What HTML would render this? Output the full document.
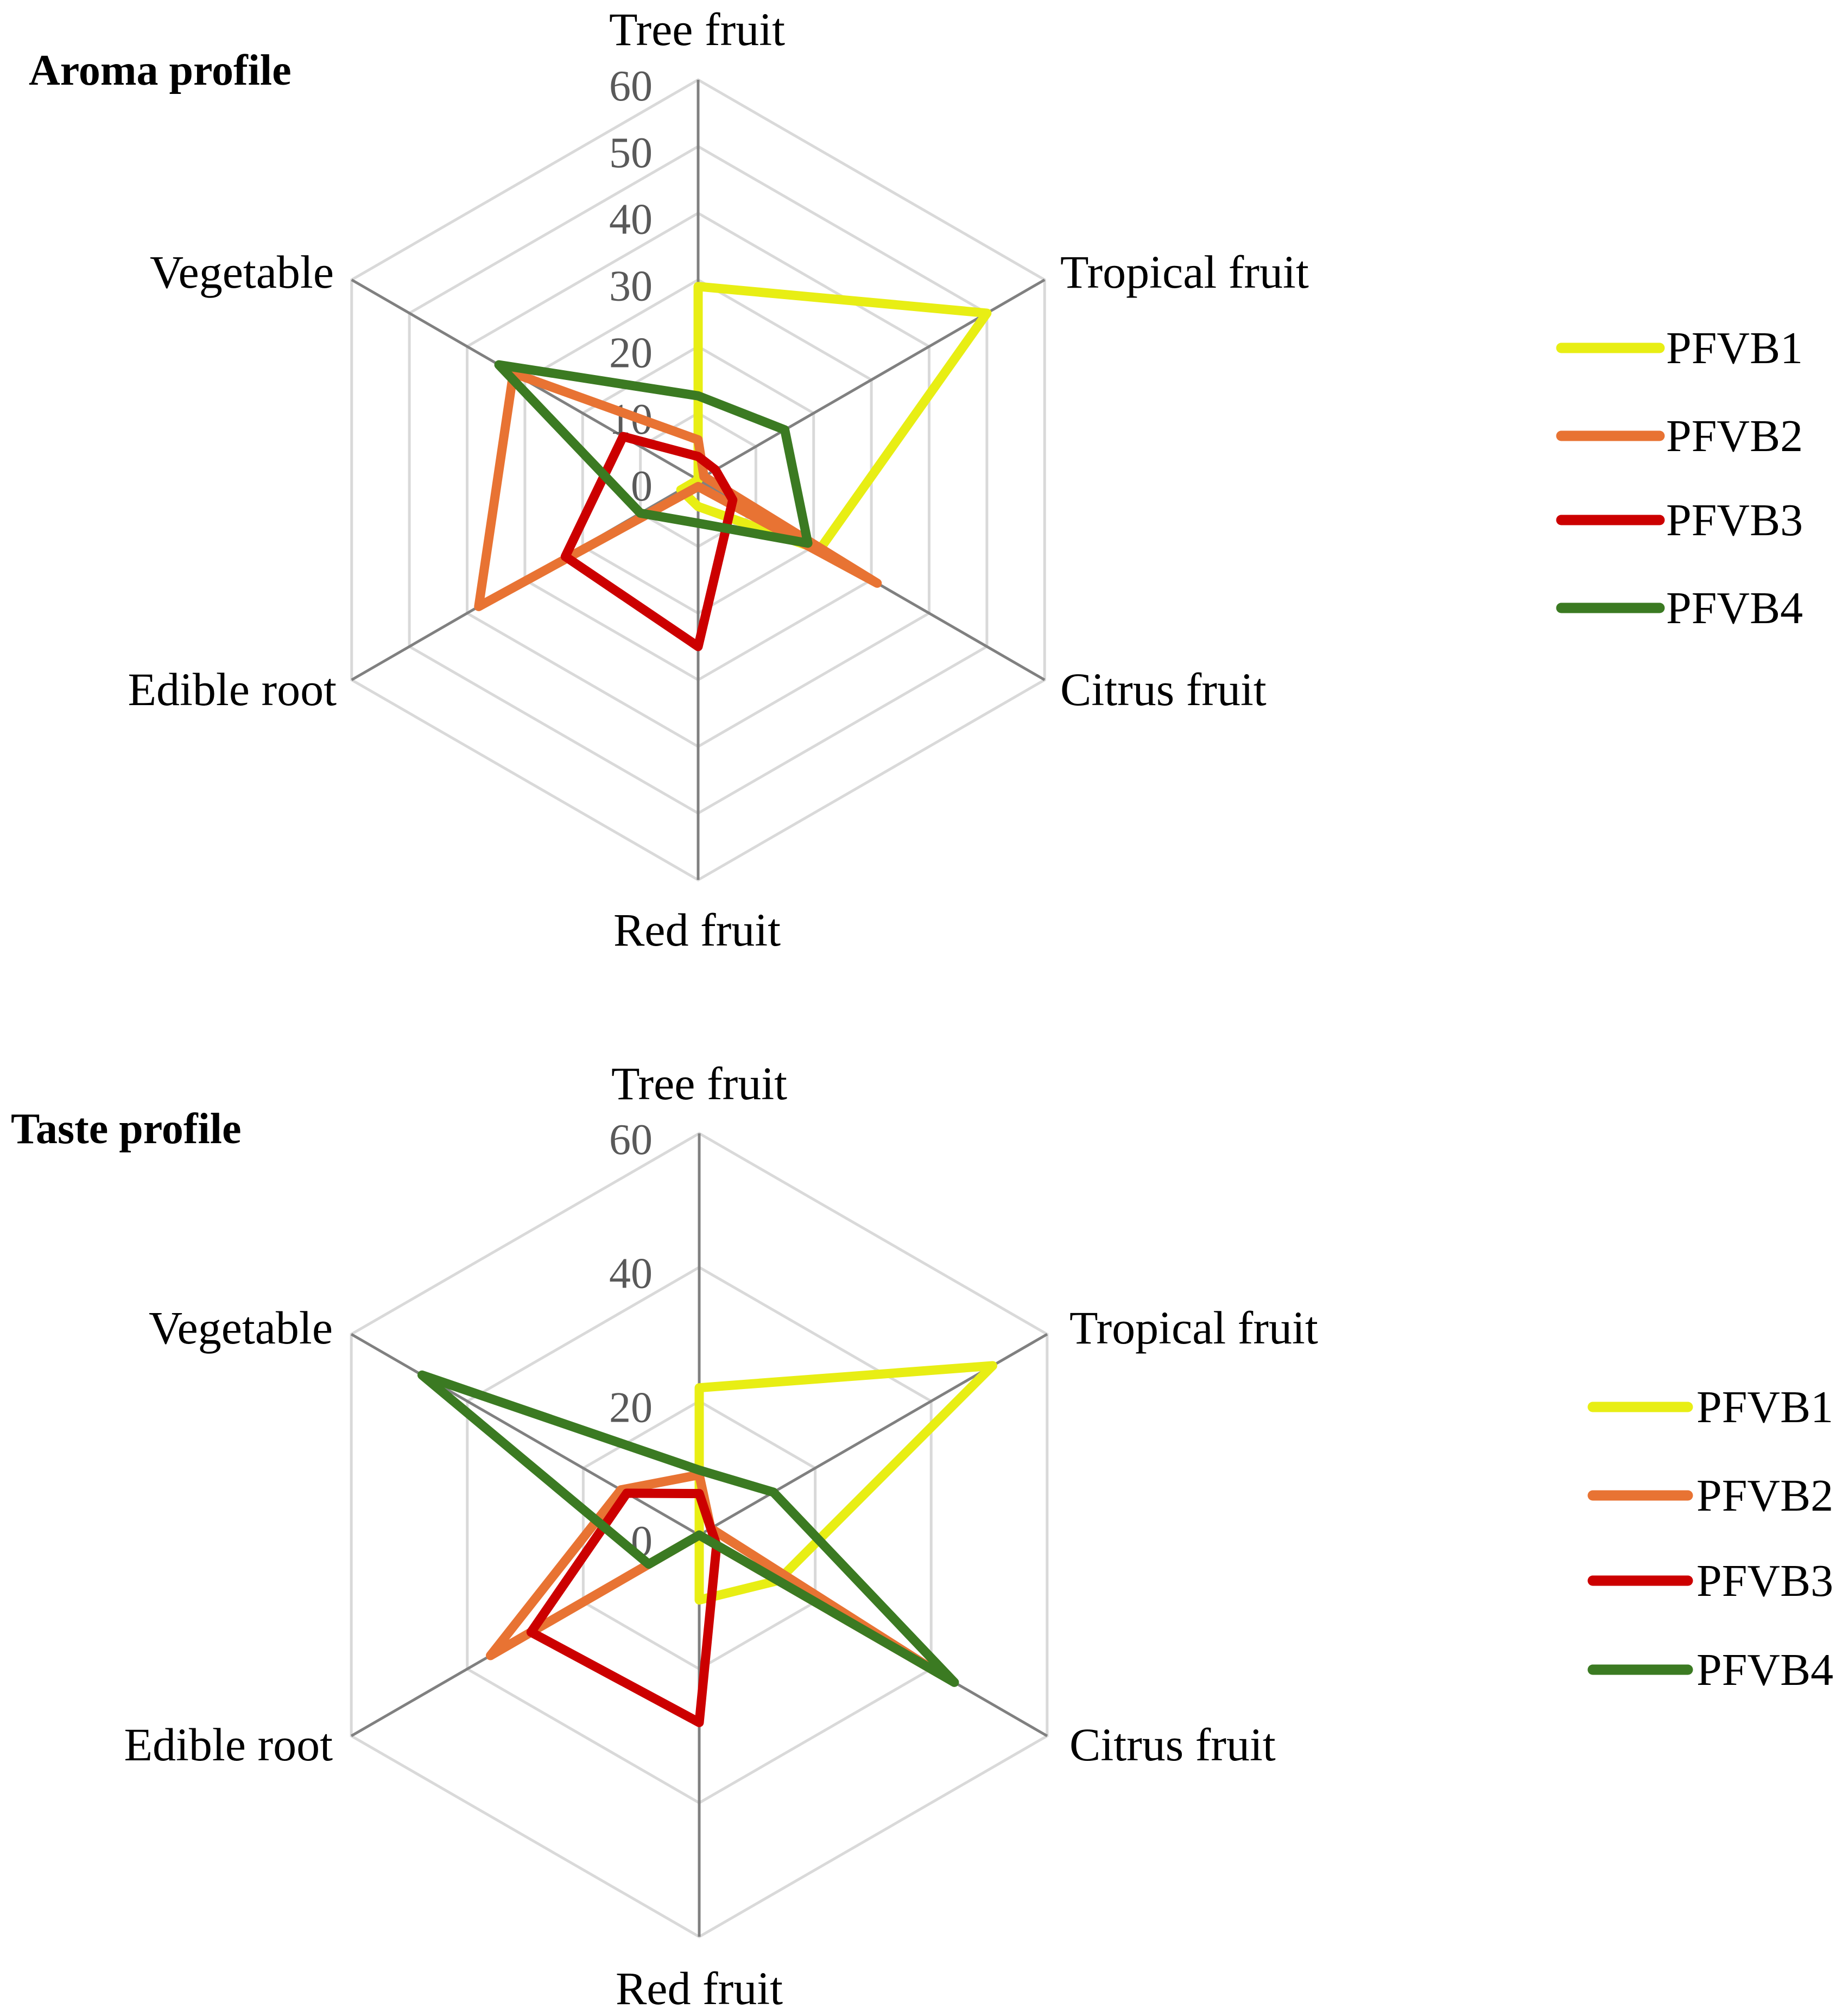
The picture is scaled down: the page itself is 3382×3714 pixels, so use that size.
<!DOCTYPE html>
<html><head><meta charset="utf-8"><style>
html,body{margin:0;padding:0;background:#fff;}
svg{display:block;}
text{font-family:"Liberation Serif",serif;}
</style></head><body>
<svg id="chart" width="3382" height="3714" viewBox="0 0 3382 3714" xmlns="http://www.w3.org/2000/svg"></svg>
<script>
const categories = ["Tree fruit","Tropical fruit","Citrus fruit","Red fruit","Edible root","Vegetable"];
const seriesNames = ["PFVB1","PFVB2","PFVB3","PFVB4"];
const aromaPFVB1 = [29, 50, 21, 4, 3, 0];
const aromaPFVB2 = [6, 1, 31, 1, 38, 32];
const aromaPFVB3 = [3.5, 3, 6, 25, 23, 13];
const aromaPFVB4 = [12.6, 15, 19, 6.5, 10, 34.5];
const tastePFVB1 = [22, 50.6, 13.6, 9.7, 0, 0];
const tastePFVB2 = [9, 2, 41.7, 0, 36, 13.5];
const tastePFVB3 = [6.2, 2, 3, 28, 29, 12.5];
const tastePFVB4 = [9.7, 12.8, 44, 0, 8.7, 47.8];
const aromaTicks = [0,10,20,30,40,50,60];
const tasteTicks = [0,20,40,60];
const colors = ["#E8EE14","#E87333","#CC0000","#3B7A22"];

const NS="http://www.w3.org/2000/svg";
const svg=document.getElementById('chart');
function mk(tag,attrs,parent){const e=document.createElementNS(NS,tag);for(const k in attrs)e.setAttribute(k,attrs[k]);(parent||svg).appendChild(e);return e;}

function drawRadar(cfg){
  const g=mk('g',{});
  
  
  const cx=cfg.cx, cy=cfg.cy, R=cfg.R, max=60;
  const ang=i=>-Math.PI/2+i*Math.PI/3;
  const pt=(i,v)=>[cx+R*(v/max)*Math.cos(ang(i)), cy+R*(v/max)*Math.sin(ang(i))];
  cfg.ticks.forEach(t=>{
    if(t===0) return;
    const pts=categories.map((c,i)=>pt(i,t).join(',')).join(' ');
    const ring=mk('polygon',{points:pts,fill:'none',stroke:'#D9D9D9','stroke-width':5},g);
    
    
  });
  categories.forEach((c,i)=>{
    const p=pt(i,max);
    const sp=mk('line',{x1:cx,y1:cy,x2:p[0],y2:p[1],stroke:'#808080','stroke-width':5},g);
    
    
  });
  cfg.ticks.forEach(t=>{
    const y=cy-R*t/max;
    const tl=mk('text',{x:1202,y:y+38,'text-anchor':'end','font-size':80,fill:'#595959'},g);
    tl.textContent=t;
    
    
  });
  cfg.series.forEach((vals,s)=>{
    const pts=vals.map((v,i)=>pt(i,v).join(',')).join(' ');
    const pl=mk('polygon',{points:pts,fill:'none',stroke:colors[s],'stroke-width':17,'stroke-linejoin':'round'},g);
    
    
  });
  cfg.labels.forEach((l,i)=>{
    const t=mk('text',{x:l[0],y:l[1],'text-anchor':l[2],'font-size':86,fill:'#000'},g);
    t.textContent=categories[i];
    
    
  });
  const ti=mk('text',{x:cfg.title[1],y:cfg.title[2],'font-size':80,'font-weight':'bold',fill:'#000'},g);
  ti.textContent=cfg.title[0];
  
  
  seriesNames.forEach((n,s)=>{
    const y=cfg.legend.y[s];
    const ln=mk('line',{x1:cfg.legend.x1,y1:y,x2:cfg.legend.x2,y2:y,stroke:colors[s],'stroke-width':19,'stroke-linecap':'round'},g);
    
    
    const tx=mk('text',{x:cfg.legend.tx,y:y+28,'font-size':84,fill:'#000'},g);
    tx.textContent=n;
    
    
  });
}

drawRadar({name:'aroma-radar',cx:1286,cy:884,R:737,ticks:aromaTicks,
  series:[aromaPFVB1,aromaPFVB2,aromaPFVB3,aromaPFVB4],
  labels:[[1284,83,'middle'],[1953,530,'start'],[1953,1299,'start'],[1284,1742,'middle'],[620,1299,'end'],[615,530,'end']],
  title:['Aroma profile',53,156],
  legend:{x1:2876,x2:3057,tx:3069,y:[641,803,958,1120]}});
drawRadar({name:'taste-radar',cx:1288,cy:2828,R:740,ticks:tasteTicks,
  series:[tastePFVB1,tastePFVB2,tastePFVB3,tastePFVB4],
  labels:[[1288,2025,'middle'],[1970,2475,'start'],[1970,3243,'start'],[1288,3692,'middle'],[613,3243,'end'],[613,2475,'end']],
  title:['Taste profile',20,2106],
  legend:{x1:2934,x2:3109,tx:3125,y:[2592,2755,2912,3076]}});
</script>
</body></html>
